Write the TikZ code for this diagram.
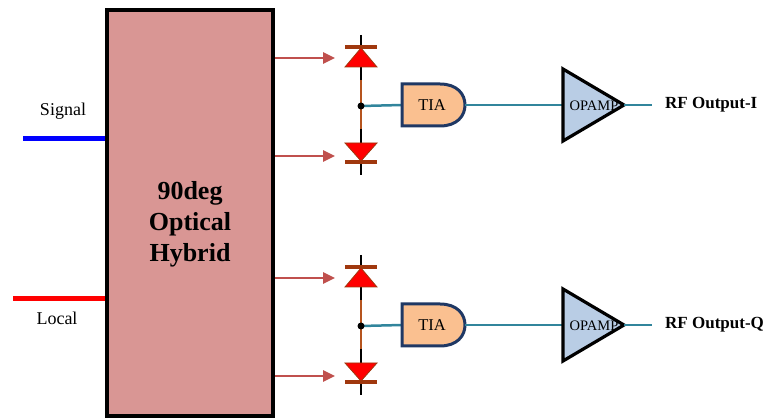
\documentclass[tikz,border=0pt]{standalone}
\usepackage{fontspec}
\setmainfont{Liberation Serif}
\usetikzlibrary{arrows.meta}
\definecolor{hyb}{RGB}{217,150,148}
\definecolor{arr}{RGB}{192,80,77}
\definecolor{dbar}{RGB}{160,56,14}
\definecolor{dwire}{RGB}{181,84,30}
\definecolor{tiaf}{RGB}{250,192,144}
\definecolor{tiab}{RGB}{31,56,100}
\definecolor{opf}{RGB}{185,205,229}
\definecolor{teal}{RGB}{49,133,156}
\tikzset{
  inarrow/.style={draw=arr, line width=2.5pt, -{Triangle[length=12pt,width=11pt]}},
  blackwire/.style={draw=black, line width=2.5pt},
  brownwire/.style={draw=dwire, line width=2.5pt},
  diodebar/.style={draw=dbar, line width=4pt},
  diodetri/.style={fill=red, draw=dbar, line width=0.8pt},
  sigwire/.style={draw=teal, line width=2.5pt},
  lbl/.style={font=\fontsize{18}{20}\selectfont, inner sep=0pt},
}
\begin{document}
\begin{tikzpicture}[x=1pt,y=-1pt]
\useasboundingbox (0,0) rectangle (779,419);
% hybrid block
\node[draw=black, line width=4pt, fill=hyb, minimum width=166pt, minimum height=405pt, inner sep=0pt] (hybrid) at (190,213) {};
\node[align=center, font=\fontsize{26}{31}\selectfont\bfseries] (hybtxt) at (190,224) {90deg\\Optical\\Hybrid};
% inputs
\coordinate (sigstart) at (23,139);
\coordinate (locstart) at (13,299);
\draw[blue, line width=5pt] (sigstart) -- (hybrid.west |- sigstart);
\draw[red, line width=5pt] (locstart) -- (hybrid.west |- locstart);
\node[lbl] (siglbl) at (63,111) {Signal};
\node[lbl] (loclbl) at (57,318) {Local};
% two receiver branches
\foreach \g/\dy/\lab in {a/0/I, b/220/Q}{
  \begin{scope}[shift={(0,\dy)}]
    \coordinate (d1tip\g) at (335,58);
    \coordinate (d2tip\g) at (335,156);
    \draw[inarrow] (hybrid.east |- d1tip\g) -- (d1tip\g);
    \draw[inarrow] (hybrid.east |- d2tip\g) -- (d2tip\g);
    % diode stack
    \coordinate (top\g) at (361,35);
    \coordinate (bot\g) at (361,175);
    \coordinate (j\g) at (361,106);
    \draw[blackwire] (top\g) -- (361,47);
    \draw[blackwire] (361,66) -- (361,80);
    \draw[brownwire] (361,80) -- (361,129);
    \draw[blackwire] (361,129) -- (361,144);
    \draw[blackwire] (361,161) -- (bot\g);
    \draw[diodetri] (345,67) -- (377,67) -- (361,48) -- cycle;
    \draw[diodebar] (345,47) -- (377,47);
    \draw[diodetri] (345,143) -- (377,143) -- (361,161) -- cycle;
    \draw[diodebar] (345,162) -- (377,162);
    % TIA
    \coordinate (tiain\g) at (402,105);
    \coordinate (tiaout\g) at (465,105);
    \draw[sigwire] (j\g) -- (tiain\g);
    \draw[draw=tiab, fill=tiaf, line width=3pt] (402,84) -- (440,84) .. controls (457,84) and (465,94) .. (465,105) .. controls (465,116) and (457,126) .. (440,126) -- (402,126) -- cycle;
    \node[font=\fontsize{16.5}{18}\selectfont, inner sep=0pt] (tia\g) at (432,105) {TIA};
    \fill[black] (j\g) circle (3.5pt);
    % opamp
    \coordinate (opin\g) at (563,105);
    \coordinate (opout\g) at (624,105);
    \coordinate (outend\g) at (652,105);
    \draw[sigwire] (tiaout\g) -- (opin\g);
    \fill[opf] (563,69) -- (624,105) -- (563,141) -- cycle;
    \node[font=\fontsize{14.5}{16}\selectfont, inner sep=0pt] (op\g) at (594,106) {OPAMP};
    \draw[black, line width=3.2pt, line join=miter] (563,69) -- (624,105) -- (563,141) -- cycle;
    \draw[sigwire] (opout\g) -- (outend\g);
    \node[anchor=west, font=\fontsize{17}{19}\selectfont\bfseries, inner sep=0pt] (rf\g) at (665,105) {RF Output-\lab};
  \end{scope}
}
\end{tikzpicture}
\end{document}
